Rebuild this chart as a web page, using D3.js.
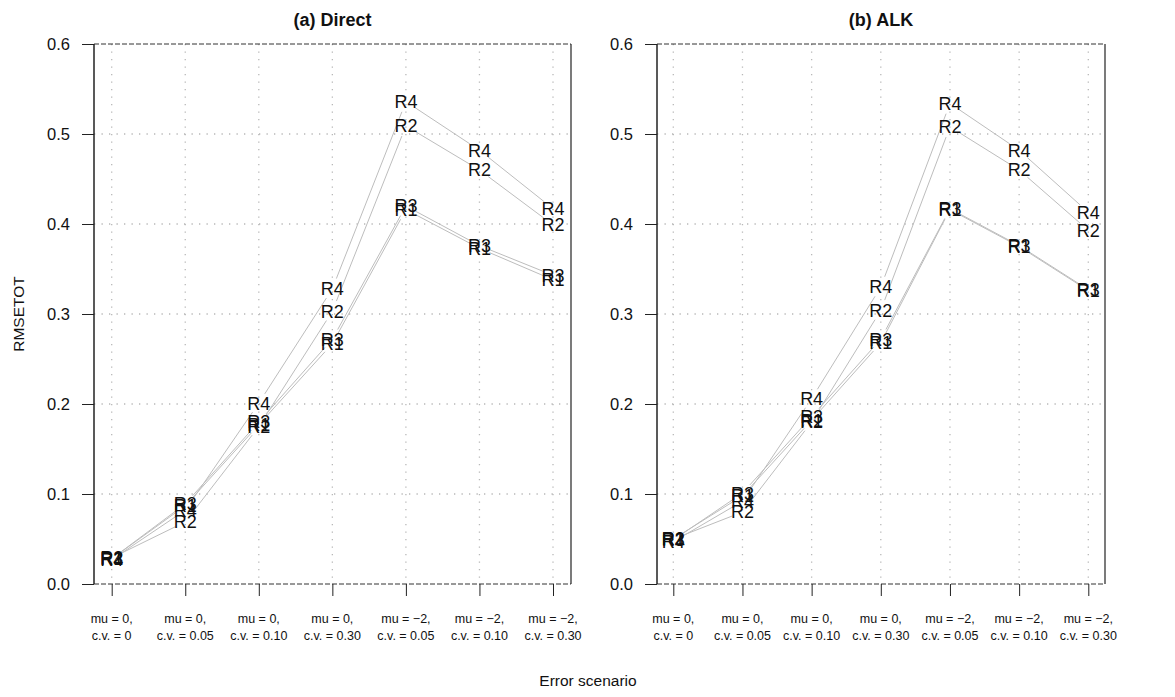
<!DOCTYPE html>
<html><head><meta charset="utf-8">
<script src="https://cdn.jsdelivr.net/npm/d3@7"></script>
<style>body{margin:0;background:#fff;} svg{display:block;font-family:"Liberation Sans",Arial,sans-serif;}</style>
</head><body>
<svg id="chart" width="1175" height="697"></svg>
<script>
const scenarioLine1 = ["mu = 0,","mu = 0,","mu = 0,","mu = 0,","mu = \u22122,","mu = \u22122,","mu = \u22122,"];
const scenarioLine2 = ["c.v. = 0","c.v. = 0.05","c.v. = 0.10","c.v. = 0.30","c.v. = 0.05","c.v. = 0.10","c.v. = 0.30"];
const seriesNames = ["R1","R2","R3","R4"];
const yTicks = [0,0.1,0.2,0.3,0.4,0.5,0.6];
const yTickLabels = ["0.0","0.1","0.2","0.3","0.4","0.5","0.6"];

const directR1 = [0.028,0.087,0.177,0.267,0.416,0.373,0.338];
const directR2 = [0.029,0.069,0.175,0.303,0.509,0.460,0.399];
const directR3 = [0.028,0.089,0.180,0.272,0.420,0.376,0.343];
const directR4 = [0.027,0.082,0.201,0.328,0.536,0.482,0.417];

const alkR1 = [0.050,0.098,0.182,0.268,0.416,0.375,0.326];
const alkR2 = [0.050,0.080,0.180,0.304,0.508,0.460,0.393];
const alkR3 = [0.049,0.101,0.186,0.272,0.417,0.376,0.327];
const alkR4 = [0.047,0.092,0.206,0.330,0.534,0.482,0.413];

const svg = d3.select("#chart");
const idx = d3.range(scenarioLine1.length);

const panels = [
  {title:"(a) Direct", series:[directR1,directR2,directR3,directR4], box:[94,571], xr:[111.7,553]},
  {title:"(b) ALK", series:[alkR1,alkR2,alkR3,alkR4], box:[657,1105], xr:[673.3,1088.3]}
];
const yTop = 44, yBot = 584;
const y = d3.scaleLinear().domain([0,0.6]).range([yBot,yTop]);

panels.forEach(p => {
  const g = svg.append("g");
  const x = d3.scalePoint().domain(idx).range(p.xr);
  // grid
  g.selectAll(".vg").data(idx).enter().append("line")
    .attr("x1",d=>x(d)).attr("x2",d=>x(d)).attr("y1",yTop).attr("y2",yBot)
    .attr("stroke","#b8b8b8").attr("stroke-width",1.3).attr("stroke-dasharray","1.3,6.2");
  g.selectAll(".hg").data(yTicks.slice(1,-1)).enter().append("line")
    .attr("x1",p.box[0]).attr("x2",p.box[1]).attr("y1",d=>y(d)).attr("y2",d=>y(d))
    .attr("stroke","#b8b8b8").attr("stroke-width",1.3).attr("stroke-dasharray","1.3,6.2");
  // box
  g.append("line").attr("x1",p.box[0]).attr("x2",p.box[1]).attr("y1",yTop).attr("y2",yTop)
    .attr("stroke","#333").attr("stroke-width",1).attr("stroke-dasharray","5,2");
  g.append("line").attr("x1",p.box[0]).attr("x2",p.box[1]).attr("y1",yBot).attr("y2",yBot)
    .attr("stroke","#333").attr("stroke-width",1).attr("stroke-dasharray","5,2");
  g.append("line").attr("x1",p.box[0]).attr("x2",p.box[0]).attr("y1",yTop).attr("y2",yBot)
    .attr("stroke","#222").attr("stroke-width",1.5);
  g.append("line").attr("x1",p.box[1]).attr("x2",p.box[1]).attr("y1",yTop).attr("y2",yBot)
    .attr("stroke","#222").attr("stroke-width",1.2);
  // y axis ticks
  const ya = d3.axisLeft(y).tickValues(yTicks).tickFormat((d,i)=>yTickLabels[i]).tickSize(12).tickPadding(12);
  const yg = g.append("g").attr("transform",`translate(${p.box[0]},0)`).call(ya);
  yg.select(".domain").remove();
  yg.selectAll("line").attr("stroke","#222");
  yg.selectAll("text").attr("font-size",16.5).attr("fill","#111").attr("font-family","Liberation Sans, Arial, sans-serif");
  // x axis ticks
  const xa = d3.axisBottom(x).tickSize(12).tickFormat("");
  const xg = g.append("g").attr("transform",`translate(0,${yBot})`).call(xa);
  xg.select(".domain").remove();
  xg.selectAll("line").attr("stroke","#222");
  const xl = g.selectAll(".xl").data(idx).enter().append("text")
    .attr("x",d=>x(d)).attr("text-anchor","middle").attr("font-size",12.5).attr("fill","#111");
  xl.append("tspan").attr("x",d=>x(d)).attr("y",623).text(d=>scenarioLine1[d]);
  xl.append("tspan").attr("x",d=>x(d)).attr("y",640).text(d=>scenarioLine2[d]);
  // title
  g.append("text").attr("x",(p.box[0]+p.box[1])/2).attr("y",26).attr("text-anchor","middle")
    .attr("font-size",18).attr("font-weight","bold").attr("fill","#111").text(p.title);
  // series lines (type "c": gaps around labels)
  const gap = 11;
  p.series.forEach((vals,si) => {
    for (let i=0;i<vals.length-1;i++){
      const x1=x(i), y1=y(vals[i]), x2=x(i+1), y2=y(vals[i+1]);
      const dx=x2-x1, dy=y2-y1, L=Math.hypot(dx,dy);
      if (L<=2*gap) continue;
      g.append("line").attr("x1",x1+dx*gap/L).attr("y1",y1+dy*gap/L)
        .attr("x2",x2-dx*gap/L).attr("y2",y2-dy*gap/L)
        .attr("stroke","#bdbdbd").attr("stroke-width",1);
    }
  });
  p.series.forEach((vals,si) => {
    g.selectAll(null).data(vals).enter().append("text")
      .attr("x",(d,i)=>x(i)).attr("y",d=>y(d)).attr("dy","0.36em")
      .attr("text-anchor","middle").attr("font-size",18).attr("fill","#111")
      .text(seriesNames[si]);
  });
});

svg.append("text").attr("transform","translate(24,314) rotate(-90)").attr("text-anchor","middle")
  .attr("font-size",15.5).attr("fill","#111").text("RMSETOT");
svg.append("text").attr("x",588).attr("y",686).attr("text-anchor","middle")
  .attr("font-size",15.5).attr("fill","#111").text("Error scenario");
</script>
</body></html>
